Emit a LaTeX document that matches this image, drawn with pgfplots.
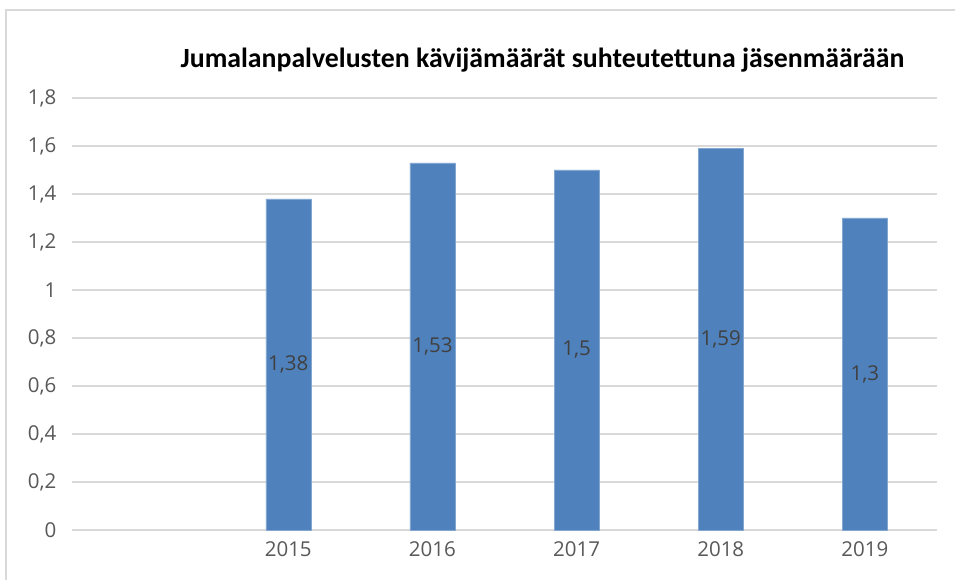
\documentclass[border=0pt]{standalone}
\usepackage{pgfplots}
\pgfplotsset{compat=1.18}
\usepackage{fontspec}
\setmainfont{Open Sans}
\newfontfamily\titlefont{Carlito}
\definecolor{barblue}{HTML}{4F81BD}
\definecolor{gridgray}{HTML}{D9D9D9}
\definecolor{ticktext}{HTML}{595959}
\definecolor{labeltext}{HTML}{404040}
\begin{document}
\begin{tikzpicture}[x=1pt,y=1pt]
\useasboundingbox (0,0) rectangle (955,580);
\fill[white] (0,0) rectangle (955,580);
\draw[gridgray, line width=1.5pt] (6,-10) -- (6,570) -- (965,570);
\node[font=\titlefont\bfseries\fontsize{27.8}{32}\selectfont, anchor=base] at (542.5,512) {Jumalanpalvelusten kävijämäärät suhteutettuna jäsenmäärään};
\begin{axis}[
  at={(72pt,50pt)}, anchor=south west, scale only axis,
  width=865pt, height=432pt,
  xmin=-0.5, xmax=5.5, ymin=0, ymax=1.8,
  xtick={1,2,3,4,5}, xticklabels={2015,2016,2017,2018,2019},
  ytick={0,0.2,0.4,0.6,0.8,1,1.2,1.4,1.6,1.8},
  yticklabels={0,{0,2},{0,4},{0,6},{0,8},1,{1,2},{1,4},{1,6},{1,8}},
  axis line style={draw=none},
  major tick style={draw=none},
  ymajorgrids, major grid style={gridgray, line width=1.5pt},
  tick label style={font=\fontsize{20.5}{24}\selectfont, text=ticktext},
  yticklabel style={xshift=-12pt},
  xticklabel style={yshift=-8pt},
  /pgf/number format/assume math mode=true,
  clip=false,
]
\addplot[ybar, bar width=45pt, fill=barblue, draw=barblue!70!white,
  nodes near coords, point meta=y,
  visualization depends on={y \as \rawy},
  nodes near coords style={anchor=center, yshift=-\rawy*120pt, font=\fontsize{20.5}{24}\selectfont, text=labeltext, /pgf/number format/use comma, /pgf/number format/assume math mode=true},
] coordinates {(1,1.38) (2,1.53) (3,1.5) (4,1.59) (5,1.3)};
\end{axis}
\end{tikzpicture}
\end{document}
